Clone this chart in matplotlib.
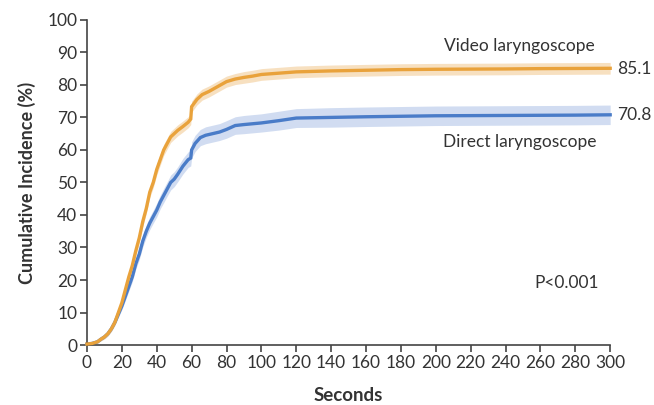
import matplotlib
matplotlib.use("Agg")
import matplotlib.pyplot as plt
import numpy as np

plt.rcParams['font.family'] = ['Lato', 'DejaVu Sans']

# Video laryngoscope (orange)
video_t = [0, 3, 6, 8, 10, 12, 14, 16, 18, 20, 22, 24, 26, 28, 30, 32, 34, 36, 38, 40, 42, 44, 46, 48, 50,
           52, 55, 58, 59.5, 60, 63, 66, 70, 75, 80, 85, 90, 95, 100, 110, 120, 140, 160, 180, 200, 240, 260, 300]
video_v = [0.3, 0.5, 1.0, 1.8, 2.5, 3.5, 5, 7, 10, 13, 17, 21, 24.5, 29, 33, 38, 42, 47, 50, 54, 57, 60, 62, 64, 65,
           66, 67.2, 68.5, 69.5, 73.3, 75.5, 77, 78, 79.5, 81, 81.8, 82.3, 82.7, 83.2, 83.6, 84.0, 84.3, 84.5, 84.7,
           84.8, 84.9, 85.0, 85.1]
video_ci = [0, 0.2, 0.4, 0.5, 0.6, 0.7, 0.8, 0.9, 1.0, 1.1, 1.2, 1.3, 1.3, 1.4, 1.5, 1.5, 1.6, 1.6, 1.6, 1.7, 1.7, 1.7, 1.7, 1.7, 1.7,
            1.7, 1.7, 1.7, 1.7, 1.7, 1.7, 1.7, 1.7, 1.7, 1.7, 1.7, 1.8, 1.8, 1.8, 1.8, 1.8, 1.8, 1.8, 1.8,
            1.8, 1.8, 1.8, 1.8]

# Direct laryngoscope (blue)
direct_t = [0, 3, 6, 8, 10, 12, 14, 16, 18, 20, 22, 24, 26, 28, 30, 32, 34, 36, 38, 40, 42, 44, 46, 48, 50,
            52, 55, 58, 59.5, 60, 62, 65, 68, 72, 76, 80, 85, 90, 100, 110, 120, 140, 160, 200, 240, 280, 300]
direct_v = [0.3, 0.5, 1.0, 1.8, 2.5, 3.5, 5, 7, 9.5, 12, 15, 18, 21, 25, 28, 32, 35, 37.5, 39.5, 41.5, 44, 46, 48, 50, 51,
            52.5, 55, 57, 57.5, 60, 62, 63.8, 64.5, 65, 65.5, 66.3, 67.5, 67.8, 68.3, 69, 69.8, 70, 70.2, 70.5,
            70.6, 70.7, 70.8]
direct_ci = [0, 0.2, 0.4, 0.5, 0.6, 0.7, 0.8, 0.9, 1.0, 1.1, 1.3, 1.4, 1.5, 1.6, 1.7, 1.8, 1.9, 2.0, 2.0, 2.1, 2.1, 2.2, 2.2, 2.3, 2.3,
             2.3, 2.4, 2.4, 2.4, 2.5, 2.5, 2.5, 2.6, 2.6, 2.6, 2.7, 2.7, 2.8, 2.8, 2.9, 2.9, 3.0, 3.0, 3.0,
             3.0, 3.0, 3.0]

x_ticks = list(range(0, 301, 20))
y_ticks = list(range(0, 101, 10))

orange = '#E9A23B'
blue = '#4A7CC8'
orange_band = '#F7DDBA'
blue_band = '#CCD9F0'
text_c = '#333333'

fig = plt.figure(figsize=(6.54, 4.05), dpi=100)
ax = fig.add_axes([0.133, 0.148, 0.800, 0.803])

for t, v, ci, c, bc, z in [(direct_t, direct_v, direct_ci, blue, blue_band, 2),
                           (video_t, video_v, video_ci, orange, orange_band, 3)]:
    t = np.array(t); v = np.array(v); ci = np.array(ci)
    ax.fill_between(t, v - ci, v + ci, color=bc, lw=0, alpha=0.9, zorder=1)
    ax.plot(t, v, color=c, lw=2.4, clip_on=False, zorder=z, solid_joinstyle='miter')

ax.set_xlim(0, 300)
ax.set_ylim(0, 100)
ax.set_xticks(x_ticks)
ax.set_yticks(y_ticks)
for s in ['top', 'right']:
    ax.spines[s].set_visible(False)
for s in ['left', 'bottom']:
    ax.spines[s].set_color('#444444')
    ax.spines[s].set_linewidth(1.2)
ax.tick_params(direction='out', length=5, width=1.2, color='#444444', labelsize=12.5,
               labelcolor=text_c, pad=2)
ax.set_xlabel('Seconds', fontsize=13.5, fontweight='bold', color=text_c, labelpad=12)
ax.set_ylabel('Cumulative Incidence (%)', fontsize=13, fontweight='bold', color=text_c, labelpad=8)

ax.text(248, 92, 'Video laryngoscope', ha='center', va='center', fontsize=12.5, color=text_c)
ax.text(248, 62.5, 'Direct laryngoscope', ha='center', va='center', fontsize=12.5, color=text_c)
ax.text(304, 84.9, '85.1', ha='left', va='center', fontsize=12.5, color=text_c, clip_on=False)
ax.text(304, 70.6, '70.8', ha='left', va='center', fontsize=12.5, color=text_c, clip_on=False)
ax.text(275, 19, 'P<0.001', ha='center', va='center', fontsize=12.5, color=text_c)

fig.savefig('out.png', dpi=100)
